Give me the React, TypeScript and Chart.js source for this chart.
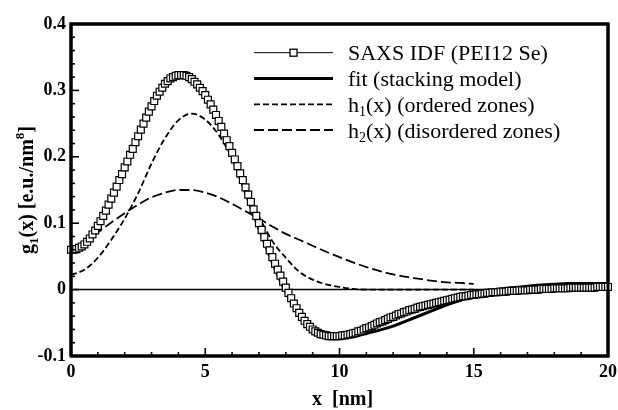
import React, { useEffect, useRef } from "react";
import { Chart, registerables } from "chart.js";

Chart.register(...registerables);

// ---- data ----
const SAXS_X0 = 0;
const SAXS_DX = 0.1;
const saxsY: number[] = [
  0.060, 0.060, 0.061, 0.063, 0.065, 0.068, 0.072, 0.077, 0.083, 0.089,
  0.096, 0.103, 0.111, 0.119, 0.128, 0.137, 0.146, 0.155, 0.165, 0.174,
  0.184, 0.193, 0.203, 0.212, 0.222, 0.231, 0.241, 0.250, 0.259, 0.268,
  0.276, 0.284, 0.292, 0.298, 0.304, 0.310, 0.314, 0.318, 0.320, 0.322,
  0.323, 0.323, 0.323, 0.322, 0.320, 0.317, 0.313, 0.309, 0.304, 0.299,
  0.293, 0.286, 0.279, 0.271, 0.263, 0.254, 0.245, 0.235, 0.225, 0.216,
  0.206, 0.196, 0.186, 0.175, 0.165, 0.154, 0.143, 0.132, 0.121, 0.111,
  0.100, 0.090, 0.079, 0.069, 0.059, 0.049, 0.039, 0.030, 0.021, 0.012,
  0.003, -0.005, -0.013, -0.021, -0.028, -0.035, -0.041, -0.047, -0.052, -0.056,
  -0.060, -0.063, -0.065, -0.067, -0.068, -0.069, -0.070, -0.070, -0.070, -0.070,
  -0.070, -0.069, -0.069, -0.068, -0.067, -0.066, -0.065, -0.063, -0.062, -0.060,
  -0.058, -0.057, -0.055, -0.053, -0.051, -0.049, -0.048, -0.046, -0.044, -0.042,
  -0.041, -0.039, -0.037, -0.036, -0.034, -0.033, -0.031, -0.030, -0.029, -0.027,
  -0.026, -0.025, -0.024, -0.023, -0.022, -0.021, -0.020, -0.019, -0.018, -0.017,
  -0.016, -0.015, -0.014, -0.013, -0.012, -0.011, -0.010, -0.010, -0.009, -0.008,
  -0.008, -0.007, -0.007, -0.006, -0.006, -0.005, -0.005, -0.004, -0.004, -0.004,
  -0.003, -0.003, -0.003, -0.002, -0.002, -0.002, -0.002, -0.001, -0.001, -0.001,
  -0.001, 0.000, 0.000, 0.000, 0.000, 0.001, 0.001, 0.001, 0.001, 0.001,
  0.002, 0.002, 0.002, 0.002, 0.002, 0.002, 0.003, 0.003, 0.003, 0.003,
  0.003, 0.003, 0.003, 0.003, 0.003, 0.003, 0.004, 0.004, 0.004, 0.004,
  0.004,
];

const halfX: number[] = [
  0, 0.5, 1, 1.5, 2, 2.5, 3, 3.5, 4, 4.5, 5, 5.5, 6, 6.5, 7, 7.5, 8, 8.5, 9, 9.5,
  10, 10.5, 11, 11.5, 12, 12.5, 13, 13.5, 14, 14.5, 15, 15.5, 16, 16.5, 17, 17.5,
  18, 18.5, 19, 19.5, 20,
];

const fitY: number[] = [
  0.058, 0.066, 0.093, 0.132, 0.178, 0.226, 0.272, 0.306, 0.322, 0.318,
  0.292, 0.250, 0.201, 0.146, 0.092, 0.041, -0.004, -0.038, -0.061, -0.070,
  -0.072, -0.071, -0.066, -0.061, -0.055, -0.047, -0.039, -0.031, -0.023, -0.016,
  -0.010, -0.004, 0.000, 0.003, 0.005, 0.007, 0.008, 0.009, 0.009, 0.009,
  0.009,
];

const h1X: number[] = [
  0, 0.5, 1, 1.5, 2, 2.5, 3, 3.5, 4, 4.5, 5, 5.5, 6, 6.5, 7, 7.5, 8, 8.5, 9, 9.5,
  10, 10.5, 11, 12, 13, 14, 15,
];
const h1Y: number[] = [
  0.022, 0.030, 0.048, 0.075, 0.107, 0.145, 0.190, 0.228, 0.255, 0.265,
  0.256, 0.233, 0.198, 0.150, 0.110, 0.073, 0.048, 0.027, 0.015, 0.008,
  0.004, 0.001, 0.000, 0.000, 0.000, 0.000, 0.000,
];

const h2X: number[] = [
  0, 0.5, 1, 1.5, 2, 2.5, 3, 3.5, 4, 4.5, 5, 5.5, 6, 6.5, 7, 7.5, 8, 8.5, 9, 9.5,
  10, 10.5, 11, 11.5, 12, 12.5, 13, 13.5, 14, 14.5, 15,
];
const h2Y: number[] = [
  0.058, 0.070, 0.086, 0.101, 0.115, 0.128, 0.139, 0.146, 0.150, 0.150,
  0.146, 0.139, 0.129, 0.118, 0.107, 0.095, 0.084, 0.075, 0.066, 0.057,
  0.049, 0.041, 0.034, 0.028, 0.023, 0.019, 0.016, 0.013, 0.011, 0.010,
  0.0085,
];

const zeroX: number[] = [0, 20];
const zeroY: number[] = [0, 0];

// plot frame corners (axis limits)
const frameX: number[] = [0, 20, 20, 0, 0];
const frameY: number[] = [-0.1, -0.1, 0.4, 0.4, -0.1];

const xTickValues: number[] = [0, 5, 10, 15, 20];
const yTickValues: number[] = [-0.1, 0, 0.1, 0.2, 0.3, 0.4];
const yTickLabels: string[] = ["-0.1", "0", "0.1", "0.2", "0.3", "0.4"];

const legendLabels: string[] = [
  "SAXS IDF (PEI12 Se)",
  "fit (stacking model)",
  "(x) (ordered zones)",
  "(x) (disordered zones)",
];

const SERIF = '"Liberation Serif", "Times New Roman", serif';

function pts(xs: number[], ys: number[]) {
  return ys.map((y, i) => ({ x: xs[i], y }));
}

function seg(ctx: CanvasRenderingContext2D, x0: number, y0: number, x1: number, y1: number) {
  ctx.beginPath();
  ctx.moveTo(x0, y0);
  ctx.lineTo(x1, y1);
  ctx.stroke();
}

const decorPlugin = {
  id: "decor",
  afterDraw(chart: any) {
    const ctx: CanvasRenderingContext2D = chart.ctx;
    const a = chart.chartArea;
    const xs = chart.scales.x;
    const ys = chart.scales.y;
    const L = a.left;
    const R = a.right;
    const T = a.top;
    const B = a.bottom;
    ctx.save();
    ctx.setLineDash([]);
    ctx.strokeStyle = "#000";
    ctx.fillStyle = "#000";

    // frame
    ctx.lineWidth = 3;
    ctx.strokeRect(L, T, R - L, B - T);

    // ticks
    ctx.lineWidth = 1.6;
    for (let v = 0; v <= 20; v += 1) {
      const px = xs.getPixelForValue(v);
      const len = v % 5 === 0 ? 8 : 4;
      seg(ctx, px, B, px, B - len);
    }
    for (let k = -5; k <= 20; k++) {
      const py = ys.getPixelForValue(k / 50);
      const len = k % 5 === 0 ? 8 : 4;
      seg(ctx, L, py, L + len, py);
    }

    ctx.textBaseline = "alphabetic";
    ctx.textAlign = "left";

    // x title
    ctx.font = `bold 20px ${SERIF}`;
    ctx.fillText("x  [nm]", 312, 405);

    // y title (rotated)
    const segs = [
      { t: "g", s: 20, dy: 0 },
      { t: "1", s: 13, dy: 5 },
      { t: "(x) [e.u./nm", s: 20, dy: 0 },
      { t: "8", s: 13, dy: -9 },
      { t: "]", s: 20, dy: 0 },
    ];
    let total = 0;
    for (const sg of segs) {
      ctx.font = `bold ${sg.s}px ${SERIF}`;
      total += ctx.measureText(sg.t).width;
    }
    ctx.save();
    ctx.translate(33, (T + B) / 2);
    ctx.rotate(-Math.PI / 2);
    let cx = -total / 2;
    for (const sg of segs) {
      ctx.font = `bold ${sg.s}px ${SERIF}`;
      ctx.fillText(sg.t, cx, sg.dy);
      cx += ctx.measureText(sg.t).width;
    }
    ctx.restore();

    // legend
    const lx0 = 254;
    const lx1 = 333;
    const tx = 348;
    const rows = [52.7, 78.5, 104.3, 130];
    const styles = [
      { w: 1, dash: [] as number[], marker: true },
      { w: 3, dash: [] as number[], marker: false },
      { w: 1.8, dash: [6, 3], marker: false },
      { w: 1.8, dash: [10, 4], marker: false },
    ];
    rows.forEach((ry, i) => {
      const st = styles[i];
      ctx.lineWidth = st.w;
      ctx.setLineDash(st.dash);
      seg(ctx, lx0, ry, lx1, ry);
      ctx.setLineDash([]);
      if (st.marker) {
        const mx = (lx0 + lx1) / 2;
        ctx.fillStyle = "#fff";
        ctx.fillRect(mx - 3.5, ry - 3.5, 7, 7);
        ctx.lineWidth = 1.3;
        ctx.strokeRect(mx - 3.5, ry - 3.5, 7, 7);
        ctx.fillStyle = "#000";
      }
      const base = ry + 7.5;
      ctx.font = `22px ${SERIF}`;
      if (i < 2) {
        ctx.fillText(legendLabels[i], tx, base);
      } else {
        ctx.fillText("h", tx, base);
        let w = ctx.measureText("h").width;
        ctx.font = `14px ${SERIF}`;
        const sub = i === 2 ? "1" : "2";
        ctx.fillText(sub, tx + w, base + 4);
        w += ctx.measureText(sub).width;
        ctx.font = `22px ${SERIF}`;
        ctx.fillText(legendLabels[i], tx + w, base);
      }
    });
    ctx.restore();
  },
};

export default function App() {
  const ref = useRef<HTMLCanvasElement | null>(null);

  useEffect(() => {
    document.body.style.margin = "0";
    const canvas = ref.current;
    if (!canvas) return;
    const chart = new Chart(canvas, {
      type: "line",
      data: {
        datasets: [
          {
            label: "SAXS IDF (PEI12 Se)",
            data: saxsY.map((y, i) => ({ x: SAXS_X0 + i * SAXS_DX, y })),
            borderColor: "#000",
            borderWidth: 1,
            pointStyle: "rect",
            pointRadius: 4.9,
            pointBorderWidth: 1.2,
            pointBorderColor: "#000",
            pointBackgroundColor: "#fff",
            tension: 0,
            clip: 4,
          },
          {
            label: "fit (stacking model)",
            data: pts(halfX, fitY),
            borderColor: "#000",
            borderWidth: 3,
            pointRadius: 0,
            cubicInterpolationMode: "monotone",
          },
          {
            label: "h1(x) (ordered zones)",
            data: pts(h1X, h1Y),
            borderColor: "#000",
            borderWidth: 1.8,
            borderDash: [6, 3],
            pointRadius: 0,
            cubicInterpolationMode: "monotone",
          },
          {
            label: "h2(x) (disordered zones)",
            data: pts(h2X, h2Y),
            borderColor: "#000",
            borderWidth: 1.8,
            borderDash: [10, 4],
            pointRadius: 0,
            cubicInterpolationMode: "monotone",
          },
          {
            label: "zero",
            data: pts(zeroX, zeroY),
            borderColor: "#000",
            borderWidth: 1.5,
            pointRadius: 0,
          },
          {
            label: "frame",
            data: pts(frameX, frameY),
            borderColor: "#000",
            borderWidth: 3,
            pointRadius: 0,
            tension: 0,
            clip: false,
          },
        ],
      },
      options: {
        responsive: false,
        animation: false,
        events: [],
        layout: { padding: { left: 0, right: 10, top: 24, bottom: 0 } },
        plugins: {
          legend: { display: false },
          tooltip: { enabled: false },
          title: { display: false },
        },
        scales: {
          x: {
            type: "linear",
            position: "bottom",
            min: 0,
            max: 20,
            afterFit: (s: any) => {
              s.height = 54;
              s.paddingLeft = 0;
              s.paddingRight = 0;
            },
            afterBuildTicks: (s: any) => {
              s.ticks = xTickValues.map((v) => ({ value: v }));
            },
            grid: { display: false, drawTicks: false },
            border: { display: false },
            ticks: {
              color: "#000",
              padding: 6,
              maxRotation: 0,
              font: { family: SERIF, size: 18, weight: "bold" },
              callback: (v: any) => String(v),
            },
          },
          y: {
            type: "linear",
            position: "left",
            min: -0.1,
            max: 0.4,
            afterFit: (s: any) => {
              s.width = 71;
              s.paddingTop = 0;
              s.paddingBottom = 0;
            },
            afterBuildTicks: (s: any) => {
              s.ticks = yTickValues.map((v) => ({ value: v }));
            },
            grid: { display: false, drawTicks: false },
            border: { display: false },
            ticks: {
              color: "#000",
              padding: 5,
              font: { family: SERIF, size: 18, weight: "bold" },
              callback: (v: any) => {
                const idx = yTickValues.findIndex((t) => Math.abs(t - v) < 1e-9);
                return idx >= 0 ? yTickLabels[idx] : "";
              },
            },
          },
        },
      },
      plugins: [decorPlugin],
    } as any);
    return () => chart.destroy();
  }, []);

  return (
    <div style={{ width: 618, height: 410, background: "#fff" }}>
      <canvas ref={ref} width={618} height={410} style={{ display: "block" }} />
    </div>
  );
}
